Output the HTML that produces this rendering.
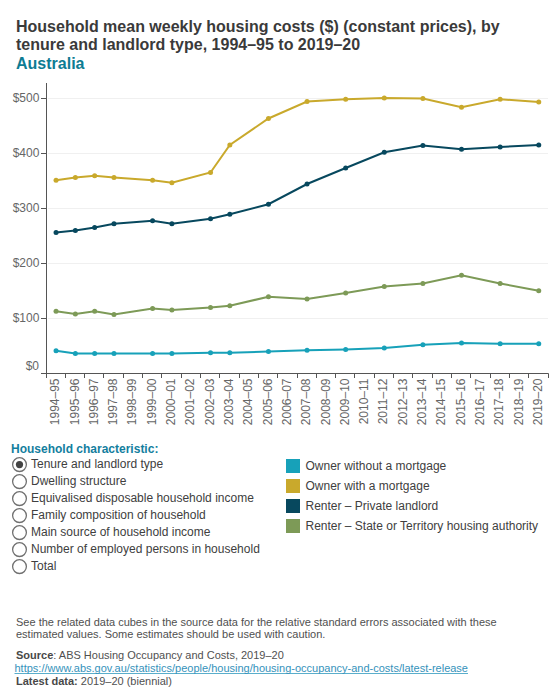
<!DOCTYPE html>
<html><head><meta charset="utf-8">
<style>
html,body{margin:0;padding:0;background:#fff;width:560px;height:700px;overflow:hidden;}
body{font-family:"Liberation Sans",sans-serif;position:relative;}
.t{position:absolute;left:16px;top:18px;font-size:16px;font-weight:bold;color:#3a3a3a;line-height:18.4px;margin:0;}
.t span{color:#0e7c93;}
svg{position:absolute;left:0;top:0;}
.yl{font-size:12px;fill:#666;}
.xl{font-size:12px;fill:#666;}
.lt{font-size:12px;fill:#404040;}
.ht{font-size:12px;font-weight:bold;fill:#137e9e;}
.f{position:absolute;left:16px;font-size:11px;color:#505050;margin:0;line-height:12px;white-space:nowrap;}
.f b{color:#484848}
.f a{color:#3592bb;text-decoration:underline;text-decoration-skip-ink:none;text-decoration-color:#5aaecb;}
</style></head><body>
<div class="t">Household mean weekly housing costs ($) (constant prices), by<br>tenure and landlord type, 1994–95 to 2019–20<br><span>Australia</span></div>
<svg width="560" height="700" viewBox="0 0 560 700">
<line x1="48" x2="548" y1="318.50" y2="318.50" stroke="#f0f0f0" stroke-width="1"/>
<line x1="48" x2="548" y1="263.50" y2="263.50" stroke="#f0f0f0" stroke-width="1"/>
<line x1="48" x2="548" y1="208.50" y2="208.50" stroke="#f0f0f0" stroke-width="1"/>
<line x1="48" x2="548" y1="153.50" y2="153.50" stroke="#f0f0f0" stroke-width="1"/>
<line x1="48" x2="548" y1="98.50" y2="98.50" stroke="#f0f0f0" stroke-width="1"/>
<path d="M46.5,83 V378" stroke="#555" stroke-width="1" fill="none"/>
<path d="M41,373.5 H548.5" stroke="#555" stroke-width="1" fill="none"/>
<path d="M41,318.50 H46.5" stroke="#555" stroke-width="1"/>
<text x="39.4" y="321.80" text-anchor="end" class="yl">$100</text>
<path d="M41,263.50 H46.5" stroke="#555" stroke-width="1"/>
<text x="39.4" y="266.80" text-anchor="end" class="yl">$200</text>
<path d="M41,208.50 H46.5" stroke="#555" stroke-width="1"/>
<text x="39.4" y="211.80" text-anchor="end" class="yl">$300</text>
<path d="M41,153.50 H46.5" stroke="#555" stroke-width="1"/>
<text x="39.4" y="156.80" text-anchor="end" class="yl">$400</text>
<path d="M41,98.50 H46.5" stroke="#555" stroke-width="1"/>
<text x="39.4" y="101.80" text-anchor="end" class="yl">$500</text>
<text x="39" y="370.20" text-anchor="end" class="yl">$0</text>
<path d="M46.5,373.5 V378" stroke="#555" stroke-width="1"/>
<path d="M65.5,373.5 V378" stroke="#555" stroke-width="1"/>
<path d="M84.5,373.5 V378" stroke="#555" stroke-width="1"/>
<path d="M103.5,373.5 V378" stroke="#555" stroke-width="1"/>
<path d="M123.5,373.5 V378" stroke="#555" stroke-width="1"/>
<path d="M142.5,373.5 V378" stroke="#555" stroke-width="1"/>
<path d="M161.5,373.5 V378" stroke="#555" stroke-width="1"/>
<path d="M181.5,373.5 V378" stroke="#555" stroke-width="1"/>
<path d="M200.5,373.5 V378" stroke="#555" stroke-width="1"/>
<path d="M219.5,373.5 V378" stroke="#555" stroke-width="1"/>
<path d="M239.5,373.5 V378" stroke="#555" stroke-width="1"/>
<path d="M258.5,373.5 V378" stroke="#555" stroke-width="1"/>
<path d="M277.5,373.5 V378" stroke="#555" stroke-width="1"/>
<path d="M297.5,373.5 V378" stroke="#555" stroke-width="1"/>
<path d="M316.5,373.5 V378" stroke="#555" stroke-width="1"/>
<path d="M335.5,373.5 V378" stroke="#555" stroke-width="1"/>
<path d="M354.5,373.5 V378" stroke="#555" stroke-width="1"/>
<path d="M374.5,373.5 V378" stroke="#555" stroke-width="1"/>
<path d="M393.5,373.5 V378" stroke="#555" stroke-width="1"/>
<path d="M412.5,373.5 V378" stroke="#555" stroke-width="1"/>
<path d="M432.5,373.5 V378" stroke="#555" stroke-width="1"/>
<path d="M451.5,373.5 V378" stroke="#555" stroke-width="1"/>
<path d="M470.5,373.5 V378" stroke="#555" stroke-width="1"/>
<path d="M490.5,373.5 V378" stroke="#555" stroke-width="1"/>
<path d="M509.5,373.5 V378" stroke="#555" stroke-width="1"/>
<path d="M528.5,373.5 V378" stroke="#555" stroke-width="1"/>
<path d="M548.5,373.5 V378" stroke="#555" stroke-width="1"/>
<text transform="translate(59.25,378.5) rotate(-90)" text-anchor="end" class="xl">1994–95</text>
<text transform="translate(78.56,378.5) rotate(-90)" text-anchor="end" class="xl">1995–96</text>
<text transform="translate(97.87,378.5) rotate(-90)" text-anchor="end" class="xl">1996–97</text>
<text transform="translate(117.18,378.5) rotate(-90)" text-anchor="end" class="xl">1997–98</text>
<text transform="translate(136.48,378.5) rotate(-90)" text-anchor="end" class="xl">1998–99</text>
<text transform="translate(155.79,378.5) rotate(-90)" text-anchor="end" class="xl">1999–00</text>
<text transform="translate(175.10,378.5) rotate(-90)" text-anchor="end" class="xl">2000–01</text>
<text transform="translate(194.41,378.5) rotate(-90)" text-anchor="end" class="xl">2001–02</text>
<text transform="translate(213.72,378.5) rotate(-90)" text-anchor="end" class="xl">2002–03</text>
<text transform="translate(233.02,378.5) rotate(-90)" text-anchor="end" class="xl">2003–04</text>
<text transform="translate(252.33,378.5) rotate(-90)" text-anchor="end" class="xl">2004–05</text>
<text transform="translate(271.64,378.5) rotate(-90)" text-anchor="end" class="xl">2005–06</text>
<text transform="translate(290.95,378.5) rotate(-90)" text-anchor="end" class="xl">2006–07</text>
<text transform="translate(310.25,378.5) rotate(-90)" text-anchor="end" class="xl">2007–08</text>
<text transform="translate(329.56,378.5) rotate(-90)" text-anchor="end" class="xl">2008–09</text>
<text transform="translate(348.87,378.5) rotate(-90)" text-anchor="end" class="xl">2009–10</text>
<text transform="translate(368.18,378.5) rotate(-90)" text-anchor="end" class="xl">2010–11</text>
<text transform="translate(387.48,378.5) rotate(-90)" text-anchor="end" class="xl">2011–12</text>
<text transform="translate(406.79,378.5) rotate(-90)" text-anchor="end" class="xl">2012–13</text>
<text transform="translate(426.10,378.5) rotate(-90)" text-anchor="end" class="xl">2013–14</text>
<text transform="translate(445.41,378.5) rotate(-90)" text-anchor="end" class="xl">2014–15</text>
<text transform="translate(464.72,378.5) rotate(-90)" text-anchor="end" class="xl">2015–16</text>
<text transform="translate(484.02,378.5) rotate(-90)" text-anchor="end" class="xl">2016–17</text>
<text transform="translate(503.33,378.5) rotate(-90)" text-anchor="end" class="xl">2017–18</text>
<text transform="translate(522.64,378.5) rotate(-90)" text-anchor="end" class="xl">2018–19</text>
<text transform="translate(541.95,378.5) rotate(-90)" text-anchor="end" class="xl">2019–20</text>
<path d="M56.05,350.75 L75.36,353.50 L94.67,353.50 L113.98,353.50 L152.59,353.50 L171.90,353.50 L210.52,352.75 L229.82,352.75 L268.44,351.50 L307.05,350.25 L345.67,349.50 L384.28,348.00 L422.90,344.75 L461.52,343.00 L500.13,343.75 L538.75,343.75" fill="none" stroke="#17a1b9" stroke-width="2"/>
<circle cx="56.05" cy="350.75" r="2.5" fill="#17a1b9"/><circle cx="75.36" cy="353.50" r="2.5" fill="#17a1b9"/><circle cx="94.67" cy="353.50" r="2.5" fill="#17a1b9"/><circle cx="113.98" cy="353.50" r="2.5" fill="#17a1b9"/><circle cx="152.59" cy="353.50" r="2.5" fill="#17a1b9"/><circle cx="171.90" cy="353.50" r="2.5" fill="#17a1b9"/><circle cx="210.52" cy="352.75" r="2.5" fill="#17a1b9"/><circle cx="229.82" cy="352.75" r="2.5" fill="#17a1b9"/><circle cx="268.44" cy="351.50" r="2.5" fill="#17a1b9"/><circle cx="307.05" cy="350.25" r="2.5" fill="#17a1b9"/><circle cx="345.67" cy="349.50" r="2.5" fill="#17a1b9"/><circle cx="384.28" cy="348.00" r="2.5" fill="#17a1b9"/><circle cx="422.90" cy="344.75" r="2.5" fill="#17a1b9"/><circle cx="461.52" cy="343.00" r="2.5" fill="#17a1b9"/><circle cx="500.13" cy="343.75" r="2.5" fill="#17a1b9"/><circle cx="538.75" cy="343.75" r="2.5" fill="#17a1b9"/>

<path d="M56.05,180.25 L75.36,177.50 L94.67,175.75 L113.98,177.50 L152.59,180.25 L171.90,182.75 L210.52,172.50 L229.82,145.00 L268.44,118.50 L307.05,101.50 L345.67,99.25 L384.28,98.00 L422.90,98.50 L461.52,107.25 L500.13,99.25 L538.75,102.00" fill="none" stroke="#c9a92c" stroke-width="2"/>
<circle cx="56.05" cy="180.25" r="2.5" fill="#c9a92c"/><circle cx="75.36" cy="177.50" r="2.5" fill="#c9a92c"/><circle cx="94.67" cy="175.75" r="2.5" fill="#c9a92c"/><circle cx="113.98" cy="177.50" r="2.5" fill="#c9a92c"/><circle cx="152.59" cy="180.25" r="2.5" fill="#c9a92c"/><circle cx="171.90" cy="182.75" r="2.5" fill="#c9a92c"/><circle cx="210.52" cy="172.50" r="2.5" fill="#c9a92c"/><circle cx="229.82" cy="145.00" r="2.5" fill="#c9a92c"/><circle cx="268.44" cy="118.50" r="2.5" fill="#c9a92c"/><circle cx="307.05" cy="101.50" r="2.5" fill="#c9a92c"/><circle cx="345.67" cy="99.25" r="2.5" fill="#c9a92c"/><circle cx="384.28" cy="98.00" r="2.5" fill="#c9a92c"/><circle cx="422.90" cy="98.50" r="2.5" fill="#c9a92c"/><circle cx="461.52" cy="107.25" r="2.5" fill="#c9a92c"/><circle cx="500.13" cy="99.25" r="2.5" fill="#c9a92c"/><circle cx="538.75" cy="102.00" r="2.5" fill="#c9a92c"/>

<path d="M56.05,232.50 L75.36,230.50 L94.67,227.50 L113.98,223.75 L152.59,220.75 L171.90,223.75 L210.52,218.75 L229.82,214.25 L268.44,204.25 L307.05,184.00 L345.67,168.00 L384.28,152.25 L422.90,145.50 L461.52,149.25 L500.13,147.00 L538.75,145.00" fill="none" stroke="#07485e" stroke-width="2"/>
<circle cx="56.05" cy="232.50" r="2.5" fill="#07485e"/><circle cx="75.36" cy="230.50" r="2.5" fill="#07485e"/><circle cx="94.67" cy="227.50" r="2.5" fill="#07485e"/><circle cx="113.98" cy="223.75" r="2.5" fill="#07485e"/><circle cx="152.59" cy="220.75" r="2.5" fill="#07485e"/><circle cx="171.90" cy="223.75" r="2.5" fill="#07485e"/><circle cx="210.52" cy="218.75" r="2.5" fill="#07485e"/><circle cx="229.82" cy="214.25" r="2.5" fill="#07485e"/><circle cx="268.44" cy="204.25" r="2.5" fill="#07485e"/><circle cx="307.05" cy="184.00" r="2.5" fill="#07485e"/><circle cx="345.67" cy="168.00" r="2.5" fill="#07485e"/><circle cx="384.28" cy="152.25" r="2.5" fill="#07485e"/><circle cx="422.90" cy="145.50" r="2.5" fill="#07485e"/><circle cx="461.52" cy="149.25" r="2.5" fill="#07485e"/><circle cx="500.13" cy="147.00" r="2.5" fill="#07485e"/><circle cx="538.75" cy="145.00" r="2.5" fill="#07485e"/>

<path d="M56.05,311.25 L75.36,314.00 L94.67,311.25 L113.98,314.50 L152.59,308.50 L171.90,310.00 L210.52,307.50 L229.82,305.75 L268.44,296.75 L307.05,299.00 L345.67,293.00 L384.28,286.50 L422.90,283.50 L461.52,275.25 L500.13,283.50 L538.75,290.75" fill="none" stroke="#7d9a57" stroke-width="2"/>
<circle cx="56.05" cy="311.25" r="2.5" fill="#7d9a57"/><circle cx="75.36" cy="314.00" r="2.5" fill="#7d9a57"/><circle cx="94.67" cy="311.25" r="2.5" fill="#7d9a57"/><circle cx="113.98" cy="314.50" r="2.5" fill="#7d9a57"/><circle cx="152.59" cy="308.50" r="2.5" fill="#7d9a57"/><circle cx="171.90" cy="310.00" r="2.5" fill="#7d9a57"/><circle cx="210.52" cy="307.50" r="2.5" fill="#7d9a57"/><circle cx="229.82" cy="305.75" r="2.5" fill="#7d9a57"/><circle cx="268.44" cy="296.75" r="2.5" fill="#7d9a57"/><circle cx="307.05" cy="299.00" r="2.5" fill="#7d9a57"/><circle cx="345.67" cy="293.00" r="2.5" fill="#7d9a57"/><circle cx="384.28" cy="286.50" r="2.5" fill="#7d9a57"/><circle cx="422.90" cy="283.50" r="2.5" fill="#7d9a57"/><circle cx="461.52" cy="275.25" r="2.5" fill="#7d9a57"/><circle cx="500.13" cy="283.50" r="2.5" fill="#7d9a57"/><circle cx="538.75" cy="290.75" r="2.5" fill="#7d9a57"/>

<text x="11" y="453" class="ht">Household characteristic:</text>
<circle cx="19.5" cy="464.60" r="6.9" fill="#fff" stroke="#707070" stroke-width="1.3"/><circle cx="19.5" cy="464.60" r="3.6" fill="#444"/>
<text x="31" y="467.60" class="lt">Tenure and landlord type</text>
<circle cx="19.5" cy="481.60" r="6.9" fill="#fff" stroke="#707070" stroke-width="1.3"/>
<text x="31" y="484.60" class="lt">Dwelling structure</text>
<circle cx="19.5" cy="498.60" r="6.9" fill="#fff" stroke="#707070" stroke-width="1.3"/>
<text x="31" y="501.60" class="lt">Equivalised disposable household income</text>
<circle cx="19.5" cy="515.60" r="6.9" fill="#fff" stroke="#707070" stroke-width="1.3"/>
<text x="31" y="518.60" class="lt">Family composition of household</text>
<circle cx="19.5" cy="532.60" r="6.9" fill="#fff" stroke="#707070" stroke-width="1.3"/>
<text x="31" y="535.60" class="lt">Main source of household income</text>
<circle cx="19.5" cy="549.60" r="6.9" fill="#fff" stroke="#707070" stroke-width="1.3"/>
<text x="31" y="552.60" class="lt">Number of employed persons in household</text>
<circle cx="19.5" cy="566.60" r="6.9" fill="#fff" stroke="#707070" stroke-width="1.3"/>
<text x="31" y="569.60" class="lt">Total</text>
<rect x="286" y="459" width="14" height="14" fill="#17a1b9"/>
<text x="305.5" y="470.00" class="lt">Owner without a mortgage</text>
<rect x="286" y="479" width="14" height="14" fill="#c9a92c"/>
<text x="305.5" y="490.00" class="lt">Owner with a mortgage</text>
<rect x="286" y="499" width="14" height="14" fill="#07485e"/>
<text x="305.5" y="510.00" class="lt">Renter – Private landlord</text>
<rect x="286" y="519" width="14" height="14" fill="#7d9a57"/>
<text x="305.5" y="530.00" class="lt">Renter – State or Territory housing authority</text>
</svg>
<div class="f" style="top:616px">See the related data cubes in the source data for the relative standard errors associated with these<br>estimated values. Some estimates should be used with caution.</div>
<div class="f" style="top:649px"><b>Source</b>: ABS Housing Occupancy and Costs, 2019–20</div>
<div class="f" style="top:661.6px;left:14.5px"><a>https://www.abs.gov.au/statistics/people/housing/housing-occupancy-and-costs/latest-release</a></div>
<div class="f" style="top:674.8px"><b>Latest data:</b> 2019–20 (biennial)</div>
</body></html>
